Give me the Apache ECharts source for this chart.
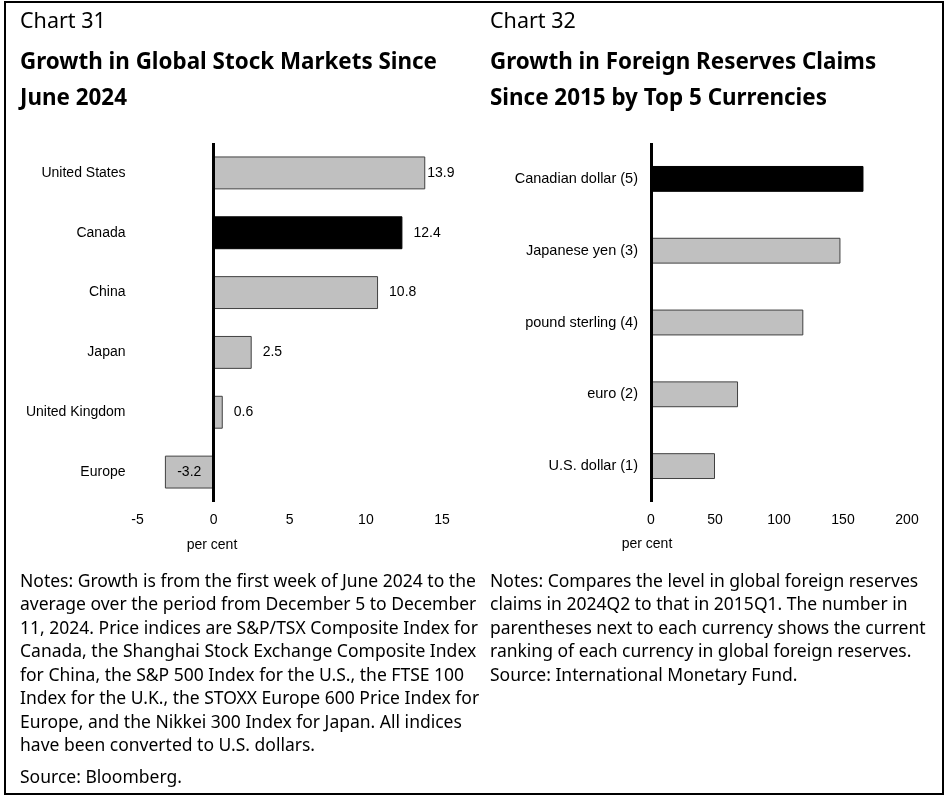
<!DOCTYPE html>
<html>
<head>
<meta charset="utf-8">
<title>Growth in stock markets and foreign reserves claims</title>
<script src="https://cdn.jsdelivr.net/npm/echarts@6/dist/echarts.min.js"></script>
<style>
  html, body { margin: 0; padding: 0; background: #fff; }
  #chart { width: 945px; height: 796px; }
</style>
</head>
<body>
<div id="chart"></div>
<script>
// Chart 31: stock market growth since June 2024 (per cent)
const marketNames = ['United States', 'Canada', 'China', 'Japan', 'United Kingdom', 'Europe'];
const marketGrowth = [13.9, 12.4, 10.8, 2.5, 0.6, -3.2];
const marketTicks = [-5, 0, 5, 10, 15];

// Chart 32: growth in foreign reserves claims since 2015 (per cent)
const currencyNames = ['Canadian dollar (5)', 'Japanese yen (3)', 'pound sterling (4)', 'euro (2)', 'U.S. dollar (1)'];
const currencyGrowth = [166, 148, 119, 68, 50];
const currencyTicks = [0, 50, 100, 150, 200];

const highlight = { 'Canada': true, 'Canadian dollar (5)': true };

const AXIS_FONT = 'Liberation Sans, Arial, sans-serif';
const TEXT_FONT = '"Noto Sans", "Open Sans", sans-serif';

function barItems(names, values, withLabels) {
  return values.map((v, i) => {
    const item = {
      value: v,
      itemStyle: highlight[names[i]]
        ? { color: '#000000', borderColor: '#000000', borderWidth: 1 }
        : { color: '#c0c0c0', borderColor: '#404040', borderWidth: 1 }
    };
    if (withLabels) {
      item.label = v < 0
        ? { show: true, position: 'inside' }
        : { show: true, position: 'right', distance: v > 13 ? 2 : 11 };
    }
    return item;
  });
}

function zeroLine() {
  return {
    silent: true,
    symbol: ['none', 'none'],
    label: { show: false },
    lineStyle: { color: '#000', width: 3, type: 'solid' },
    data: [{ xAxis: 0 }]
  };
}

const axisLabelStyle = { color: '#000', fontFamily: AXIS_FONT, fontSize: 14 };

const chart = echarts.init(document.getElementById('chart'), null, { renderer: 'canvas' });

const notesStyle = { font: '17.5px ' + TEXT_FONT, lineHeight: 23.5, fill: '#000', verticalAlign: 'top' };

chart.setOption({
  animation: false,
  backgroundColor: '#fff',
  grid: [
    { left: 137.5, right: 503, top: 143, bottom: 294 },
    { left: 651, right: 38, top: 143, bottom: 294 }
  ],
  xAxis: [
    {
      gridIndex: 0, type: 'value',
      min: marketTicks[0], max: marketTicks[marketTicks.length - 1], interval: 5,
      axisLine: { show: false }, axisTick: { show: false }, splitLine: { show: false },
      axisLabel: Object.assign({ margin: 11 }, axisLabelStyle)
    },
    {
      gridIndex: 1, type: 'value',
      min: currencyTicks[0], max: currencyTicks[currencyTicks.length - 1], interval: 50,
      axisLine: { show: false }, axisTick: { show: false }, splitLine: { show: false },
      axisLabel: Object.assign({ margin: 11 }, axisLabelStyle)
    }
  ],
  yAxis: [
    {
      gridIndex: 0, type: 'category', data: marketNames, inverse: true,
      axisLine: { show: false }, axisTick: { show: false },
      axisLabel: Object.assign({ margin: 12 }, axisLabelStyle)
    },
    {
      gridIndex: 1, type: 'category', data: currencyNames, inverse: true,
      axisLine: { show: false }, axisTick: { show: false },
      axisLabel: Object.assign({ margin: 13 }, axisLabelStyle, { fontSize: 14.5 })
    }
  ],
  series: [
    {
      type: 'bar', xAxisIndex: 0, yAxisIndex: 0,
      barWidth: '55%',
      data: barItems(marketNames, marketGrowth, true),
      label: { color: '#000', fontFamily: AXIS_FONT, fontSize: 14 },
      markLine: zeroLine()
    },
    {
      type: 'bar', xAxisIndex: 1, yAxisIndex: 1,
      barWidth: '36%',
      data: barItems(currencyNames, currencyGrowth, false),
      markLine: zeroLine()
    }
  ],
  graphic: [
    {
      type: 'rect', silent: true,
      shape: { x: 5, y: 2, width: 938, height: 792 },
      style: { fill: 'none', stroke: '#000', lineWidth: 2 }
    },
    // Panel headings
    { type: 'text', x: 20, y: 22, style: { text: 'Chart 31', font: '21.5px ' + TEXT_FONT, fill: '#000', verticalAlign: 'middle' } },
    { type: 'text', x: 20, y: 45, style: { text: 'Growth in Global Stock Markets Since\nJune 2024', font: 'bold 22.4px ' + TEXT_FONT, lineHeight: 36, fill: '#000', verticalAlign: 'top' } },
    { type: 'text', x: 490, y: 22, style: { text: 'Chart 32', font: '21.5px ' + TEXT_FONT, fill: '#000', verticalAlign: 'middle' } },
    { type: 'text', x: 490, y: 45, style: { text: 'Growth in Foreign Reserves Claims\nSince 2015 by Top 5 Currencies', font: 'bold 22.4px ' + TEXT_FONT, lineHeight: 36, fill: '#000', verticalAlign: 'top' } },
    // Axis units
    { type: 'text', x: 212, y: 545, style: { text: 'per cent', font: '14px ' + AXIS_FONT, fill: '#000', align: 'center', verticalAlign: 'middle' } },
    { type: 'text', x: 647, y: 544, style: { text: 'per cent', font: '14px ' + AXIS_FONT, fill: '#000', align: 'center', verticalAlign: 'middle' } },
    // Notes and sources
    {
      type: 'text', x: 20, y: 570,
      style: Object.assign({
        text: 'Notes: Growth is from the first week of June 2024 to the\n' +
              'average over the period from December 5 to December\n' +
              '11, 2024. Price indices are S&P/TSX Composite Index for\n' +
              'Canada, the Shanghai Stock Exchange Composite Index\n' +
              'for China, the S&P 500 Index for the U.S., the FTSE 100\n' +
              'Index for the U.K., the STOXX Europe 600 Price Index for\n' +
              'Europe, and the Nikkei 300 Index for Japan. All indices\n' +
              'have been converted to U.S. dollars.'
      }, notesStyle)
    },
    { type: 'text', x: 20, y: 766, style: Object.assign({ text: 'Source: Bloomberg.' }, notesStyle) },
    {
      type: 'text', x: 490, y: 570,
      style: Object.assign({
        text: 'Notes: Compares the level in global foreign reserves\n' +
              'claims in 2024Q2 to that in 2015Q1. The number in\n' +
              'parentheses next to each currency shows the current\n' +
              'ranking of each currency in global foreign reserves.'
      }, notesStyle)
    },
    { type: 'text', x: 490, y: 664, style: Object.assign({ text: 'Source: International Monetary Fund.' }, notesStyle) }
  ]
});
</script>
</body>
</html>
